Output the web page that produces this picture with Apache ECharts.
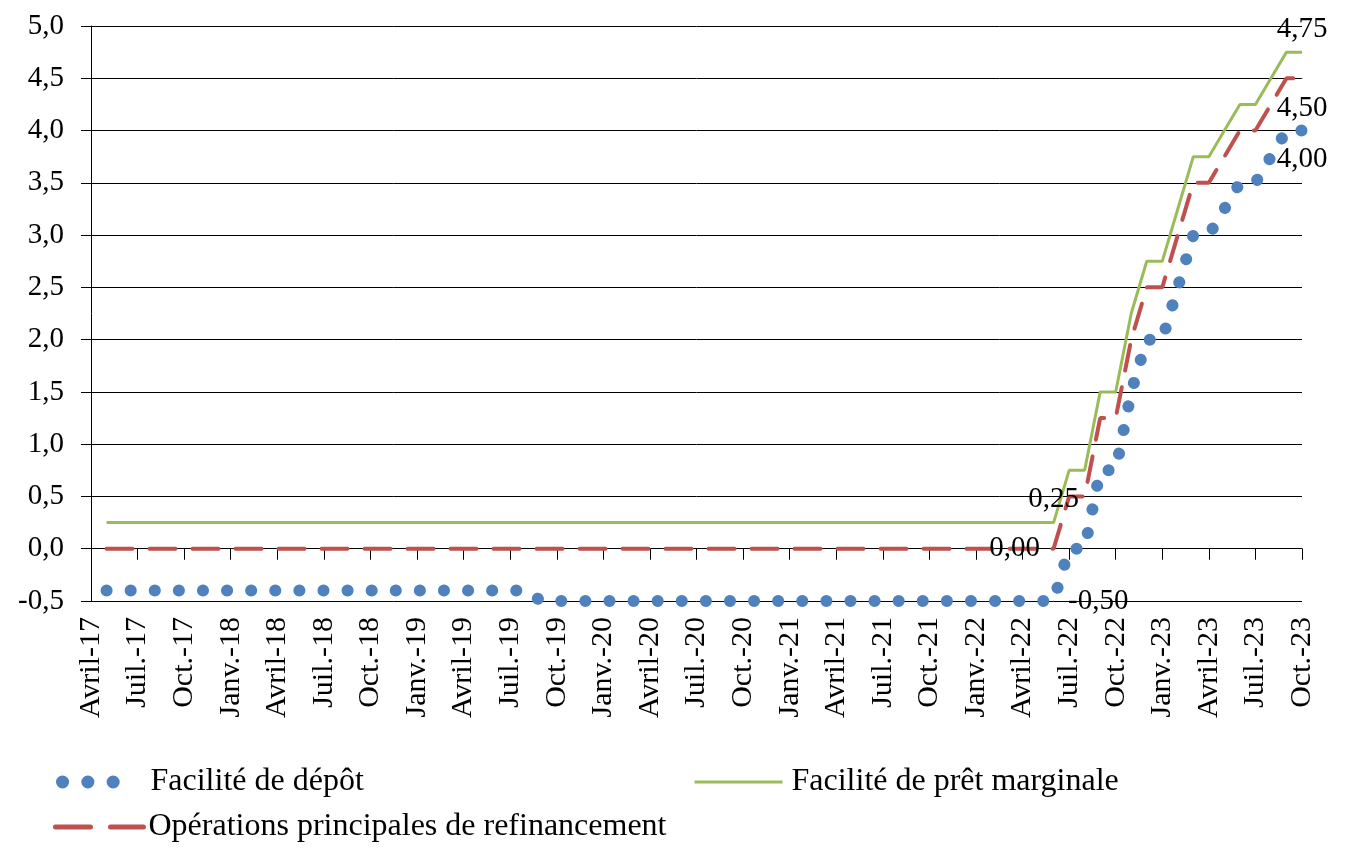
<!DOCTYPE html>
<html>
<head>
<meta charset="utf-8">
<script src="https://cdn.jsdelivr.net/npm/echarts@6/dist/echarts.min.js"></script>
<style>
html,body{margin:0;padding:0;background:#fff;}
#chart{width:1347px;height:861px;}
</style>
</head>
<body>
<div id="chart"></div>
<script>
const months = [
  'Avril-17','Mai-17','Juin-17','Juil.-17','Août-17','Sept.-17','Oct.-17','Nov.-17','Déc.-17',
  'Janv.-18','Févr.-18','Mars-18','Avril-18','Mai-18','Juin-18','Juil.-18','Août-18','Sept.-18','Oct.-18','Nov.-18','Déc.-18',
  'Janv.-19','Févr.-19','Mars-19','Avril-19','Mai-19','Juin-19','Juil.-19','Août-19','Sept.-19','Oct.-19','Nov.-19','Déc.-19',
  'Janv.-20','Févr.-20','Mars-20','Avril-20','Mai-20','Juin-20','Juil.-20','Août-20','Sept.-20','Oct.-20','Nov.-20','Déc.-20',
  'Janv.-21','Févr.-21','Mars-21','Avril-21','Mai-21','Juin-21','Juil.-21','Août-21','Sept.-21','Oct.-21','Nov.-21','Déc.-21',
  'Janv.-22','Févr.-22','Mars-22','Avril-22','Mai-22','Juin-22','Juil.-22','Août-22','Sept.-22','Oct.-22','Nov.-22','Déc.-22',
  'Janv.-23','Févr.-23','Mars-23','Avril-23','Mai-23','Juin-23','Juil.-23','Août-23','Sept.-23','Oct.-23'
];

// Facilité de dépôt
const depot = [
  null,-0.40,-0.40,-0.40,-0.40,-0.40,-0.40,-0.40,-0.40,
  -0.40,-0.40,-0.40,-0.40,-0.40,-0.40,-0.40,-0.40,-0.40,-0.40,-0.40,-0.40,
  -0.40,-0.40,-0.40,-0.40,-0.40,-0.40,-0.40,-0.40,-0.50,-0.50,-0.50,-0.50,
  -0.50,-0.50,-0.50,-0.50,-0.50,-0.50,-0.50,-0.50,-0.50,-0.50,-0.50,-0.50,
  -0.50,-0.50,-0.50,-0.50,-0.50,-0.50,-0.50,-0.50,-0.50,-0.50,-0.50,-0.50,
  -0.50,-0.50,-0.50,-0.50,-0.50,-0.50,0.00,0.00,0.75,0.75,1.50,2.00,
  2.00,2.50,3.00,3.00,3.25,3.50,3.50,3.75,4.00,4.00
];

// Opérations principales de refinancement
const refi = [
  null,0.00,0.00,0.00,0.00,0.00,0.00,0.00,0.00,
  0.00,0.00,0.00,0.00,0.00,0.00,0.00,0.00,0.00,0.00,0.00,0.00,
  0.00,0.00,0.00,0.00,0.00,0.00,0.00,0.00,0.00,0.00,0.00,0.00,
  0.00,0.00,0.00,0.00,0.00,0.00,0.00,0.00,0.00,0.00,0.00,0.00,
  0.00,0.00,0.00,0.00,0.00,0.00,0.00,0.00,0.00,0.00,0.00,0.00,
  0.00,0.00,0.00,0.00,0.00,0.00,0.50,0.50,1.25,1.25,2.00,2.50,
  2.50,3.00,3.50,3.50,3.75,4.00,4.00,4.25,4.50,4.50
];

// Facilité de prêt marginale
const pret = [
  null,0.25,0.25,0.25,0.25,0.25,0.25,0.25,0.25,
  0.25,0.25,0.25,0.25,0.25,0.25,0.25,0.25,0.25,0.25,0.25,0.25,
  0.25,0.25,0.25,0.25,0.25,0.25,0.25,0.25,0.25,0.25,0.25,0.25,
  0.25,0.25,0.25,0.25,0.25,0.25,0.25,0.25,0.25,0.25,0.25,0.25,
  0.25,0.25,0.25,0.25,0.25,0.25,0.25,0.25,0.25,0.25,0.25,0.25,
  0.25,0.25,0.25,0.25,0.25,0.25,0.75,0.75,1.50,1.50,2.25,2.75,
  2.75,3.25,3.75,3.75,4.00,4.25,4.25,4.50,4.75,4.75
];

const seriesNames = ['Facilité de dépôt', 'Facilité de prêt marginale', 'Opérations principales de refinancement'];
const labelledIndexA = 62; // Juin-22
const labelledIndexB = 78; // Oct.-23

const FONT = 'Liberation Serif';
const fmt2 = v => v.toFixed(2).replace('.', ',');

function withLabels(arr, posA, distA, posB, distB) {
  return arr.map((v, i) => {
    if (i === labelledIndexA) return { value: v, symbol: 'circle', symbolSize: 1, label: { show: true, position: posA, distance: distA } };
    if (i === labelledIndexB) return { value: v, symbol: 'circle', symbolSize: 1, label: { show: true, position: posB, distance: distB } };
    return v;
  });
}

const labelBase = {
  show: false,
  fontFamily: FONT, fontSize: 29, color: '#000',
  formatter: p => fmt2(Array.isArray(p.value) ? p.value[1] : p.value)
};

const legendText = { fontFamily: FONT, fontSize: 32, color: '#000' };
const hiddenSymbol = { opacity: 0, color: 'rgba(0,0,0,0)', borderWidth: 0 };

const chart = echarts.init(document.getElementById('chart'), null, { renderer: 'canvas' });

chart.setOption({
  animation: false,
  backgroundColor: '#fff',
  grid: { left: 91, right: 45, top: 26, bottom: 260, containLabel: false, outerBoundsMode: 'none' },
  xAxis: [
    {
      type: 'category', data: months, boundaryGap: false,
      axisLine: { onZero: true, lineStyle: { color: '#000', width: 1 } },
      axisTick: { show: true, interval: 2, length: 11, lineStyle: { color: '#000' } },
      axisLabel: { show: false },
      splitLine: { show: false }
    },
    {
      type: 'category', data: months, boundaryGap: false, position: 'bottom',
      axisLine: { show: false, onZero: false },
      axisTick: { show: false },
      axisLabel: { show: true, interval: 2, rotate: 90, margin: 16, fontFamily: FONT, fontSize: 30, color: '#000' },
      splitLine: { show: false }
    }
  ],
  yAxis: {
    type: 'value', min: -0.5, max: 5, interval: 0.5,
    axisLine: { show: true, lineStyle: { color: '#000', width: 1 } },
    axisTick: { show: true, length: 10, lineStyle: { color: '#000' } },
    axisLabel: { margin: 27, fontFamily: FONT, fontSize: 29, color: '#000',
      formatter: v => v.toFixed(1).replace('.', ',') },
    splitLine: { show: true, lineStyle: { color: '#000', width: 1 } }
  },
  legend: [
    {
      data: [seriesNames[0]], left: 56, top: 766, padding: 0, orient: 'horizontal',
      itemWidth: 83, itemHeight: 14,
      lineStyle: { width: 13, type: [0.1, 25.2, 0.1, 25.2, 0.1, 300], cap: 'round', color: '#4F81BD' },
      itemStyle: hiddenSymbol,
      textStyle: legendText
    },
    {
      data: [seriesNames[2]], left: 53, top: 811, padding: 0, orient: 'horizontal',
      itemWidth: 88, itemHeight: 14,
      lineStyle: { width: 5, type: [35, 20], cap: 'round', color: '#C0504D' },
      itemStyle: hiddenSymbol,
      textStyle: legendText
    },
    {
      data: [seriesNames[1]], left: 693, top: 766, padding: 0, orient: 'horizontal',
      itemWidth: 88, itemHeight: 14,
      lineStyle: { width: 3, type: 'solid', color: '#9BBB59' },
      itemStyle: hiddenSymbol,
      textStyle: Object.assign({}, legendText, { padding: [0, 0, 0, 4] })
    }
  ],
  series: [
    {
      name: seriesNames[0], type: 'line', xAxisIndex: 0, symbol: 'none', showAllSymbol: true,
      data: withLabels(depot, 'right', 14, 'bottom', 14),
      lineStyle: { color: '#4F81BD', width: 12, type: [0.1, 24], cap: 'round' },
      itemStyle: { color: '#4F81BD' },
      label: labelBase, z: 3
    },
    {
      name: seriesNames[2], type: 'line', xAxisIndex: 0, symbol: 'none', showAllSymbol: true,
      data: withLabels(refi, 'left', 13, 'bottom', 15),
      lineStyle: { color: '#C0504D', width: 4, type: [26, 17], cap: 'round' },
      itemStyle: { color: '#C0504D' },
      label: labelBase, z: 4
    },
    {
      name: seriesNames[1], type: 'line', xAxisIndex: 0, symbol: 'none', showAllSymbol: true,
      data: withLabels(pret, 'top', 8, 'top', 8),
      lineStyle: { color: '#9BBB59', width: 3 },
      itemStyle: { color: '#9BBB59' },
      label: labelBase, z: 5
    }
  ]
});
</script>
</body>
</html>
